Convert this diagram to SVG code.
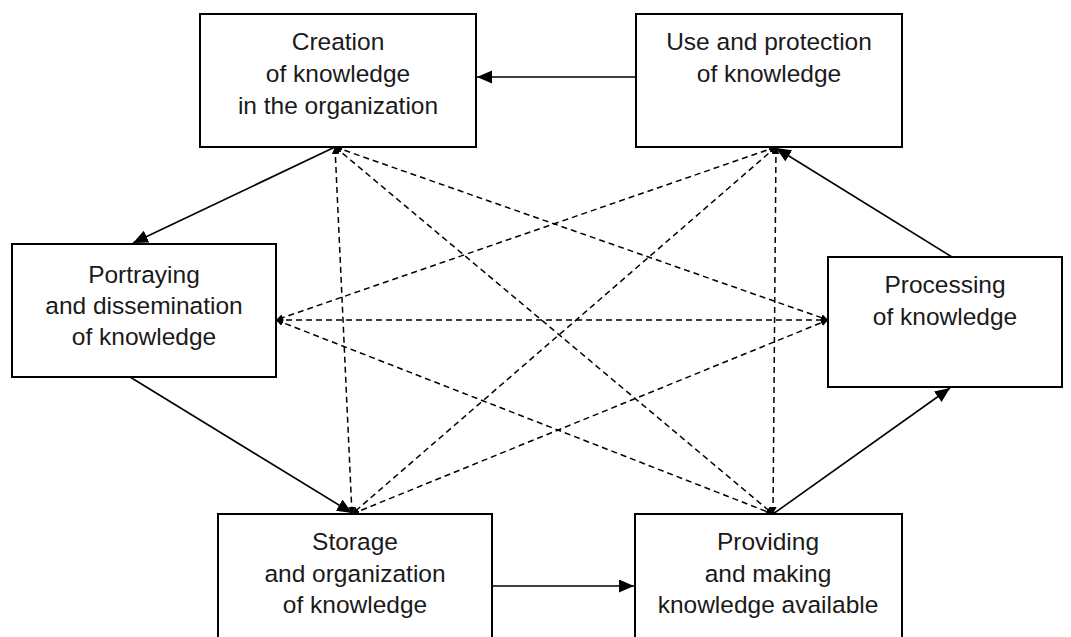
<svg xmlns="http://www.w3.org/2000/svg" width="1071" height="637" viewBox="0 0 1071 637">
<style>
.box{fill:#fff;stroke:#000;stroke-width:2}
.t{font-family:"Liberation Sans",Arial,sans-serif;font-size:24.5px;fill:#1a1a1a;text-anchor:middle}
.s{stroke:#000;stroke-width:1.6;fill:none;marker-end:url(#big)}
.d{stroke:#000;stroke-width:1.5;fill:none;stroke-dasharray:6 4;marker-start:url(#sm);marker-end:url(#sm)}
</style>
<defs>
<marker id="big" markerUnits="userSpaceOnUse" markerWidth="16" markerHeight="14" refX="15" refY="6.5" orient="auto"><path d="M0,0 L15,6.5 L0,13 z" fill="#000"/></marker>
<marker id="sm" markerUnits="userSpaceOnUse" markerWidth="8" markerHeight="8" refX="7" refY="3.5" orient="auto-start-reverse"><path d="M0,0 L7,3.5 L0,7 z" fill="#000"/></marker>
</defs>
<rect width="1071" height="637" fill="#fff"/>
<g id="connectors">
<line class="d" x1="335" y1="147" x2="352" y2="514"/>
<line class="d" x1="335" y1="147" x2="828" y2="320"/>
<line class="d" x1="335" y1="147" x2="773" y2="514"/>
<line class="d" x1="776" y1="147" x2="276" y2="320"/>
<line class="d" x1="776" y1="147" x2="352" y2="514"/>
<line class="d" x1="776" y1="147" x2="773" y2="514"/>
<line class="d" x1="276" y1="320" x2="828" y2="320"/>
<line class="d" x1="276" y1="320" x2="773" y2="514"/>
<line class="d" x1="352" y1="514" x2="828" y2="320"/>
<line class="s" x1="636" y1="77" x2="477" y2="77"/>
<line class="s" x1="335" y1="147" x2="133" y2="243"/>
<line class="s" x1="130" y1="377" x2="352" y2="513"/>
<line class="s" x1="492" y1="586" x2="634" y2="586"/>
<line class="s" x1="773" y1="514" x2="950" y2="388"/>
<line class="s" x1="952" y1="257" x2="776" y2="148"/>
</g>
<g id="creation"><rect class="box" x="200" y="14" width="276" height="133"/>
<text class="t" x="338" y="50">Creation</text><text class="t" x="338" y="82">of knowledge</text><text class="t" x="338" y="114">in the organization</text></g>
<g id="use"><rect class="box" x="636" y="14" width="266" height="133"/>
<text class="t" x="769" y="50">Use and protection</text><text class="t" x="769" y="82">of knowledge</text></g>
<g id="portraying"><rect class="box" x="12" y="244" width="264" height="133"/>
<text class="t" x="144" y="283">Portraying</text><text class="t" x="144" y="314">and dissemination</text><text class="t" x="144" y="345">of knowledge</text></g>
<g id="processing"><rect class="box" x="828" y="257" width="234" height="130"/>
<text class="t" x="945" y="293">Processing</text><text class="t" x="945" y="325">of knowledge</text></g>
<g id="storage"><rect class="box" x="218" y="514" width="274" height="140"/>
<text class="t" x="355" y="550">Storage</text><text class="t" x="355" y="582">and organization</text><text class="t" x="355" y="613">of knowledge</text></g>
<g id="providing"><rect class="box" x="635" y="514" width="267" height="140"/>
<text class="t" x="768" y="550">Providing</text><text class="t" x="768" y="582">and making</text><text class="t" x="768" y="613">knowledge available</text></g>
</svg>
